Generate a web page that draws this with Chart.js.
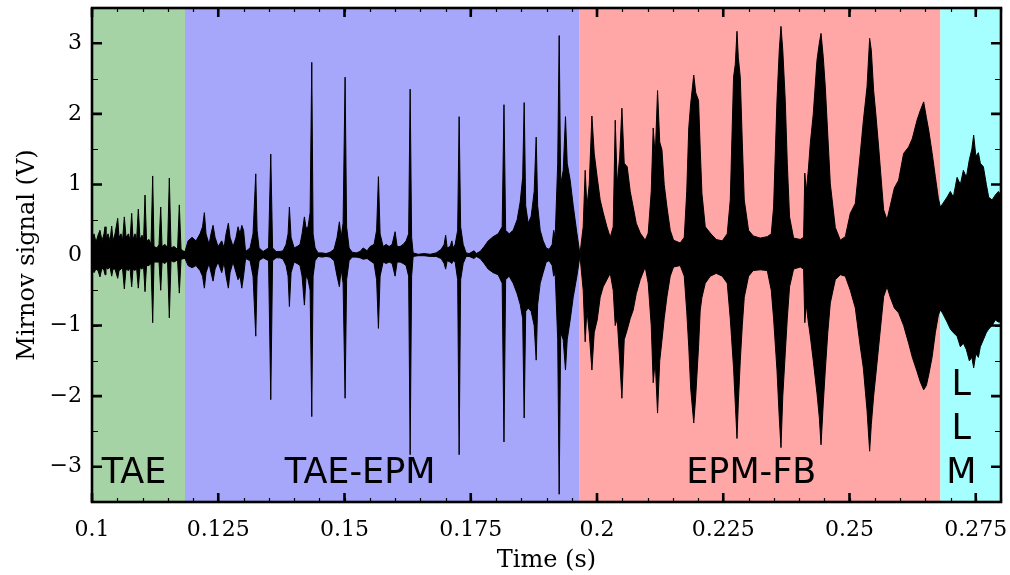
<!DOCTYPE html>
<html>
<head>
<meta charset="utf-8">
<title>Mirnov signal</title>
<script src="https://cdn.jsdelivr.net/npm/chart.js@4.4.0/dist/chart.umd.min.js"></script>
<style>
    html, body { margin: 0; padding: 0; background: #fff; }
    #wrap { width: 1010px; height: 575px; }
</style>
</head>
<body>
<div id="wrap"><canvas id="mirnovChart" width="1010" height="575"></canvas></div>
<script>
// Axis ticks
const xTicks = [0.1, 0.125, 0.15, 0.175, 0.2, 0.225, 0.25, 0.275];
const yTicks = [-3, -2, -1, 0, 1, 2, 3];

// Regimes: boundaries in time (s)
const regimeNames = ['TAE', 'TAE-EPM', 'EPM-FB', 'LLM'];
const regimeEdges = [0.1, 0.11842, 0.19657, 0.26799, 0.28];
const regimeColors = ['#a6d3a6', '#a6a6fa', '#ffa6a6', '#a6ffff'];

// Signal envelope (time in s, peaks in V)
const taeTime = [0.10000, 0.10040, 0.10079, 0.10119, 0.10158, 0.10198, 0.10238, 0.10258, 0.10277, 0.10317,
    0.10357, 0.10390, 0.10416, 0.10456, 0.10509, 0.10535, 0.10574, 0.10604, 0.10640, 0.10674,
    0.10723, 0.10753, 0.10786, 0.10812, 0.10852, 0.10882, 0.10917, 0.10951, 0.10991, 0.11020,
    0.11050, 0.11080, 0.11129, 0.11169, 0.11202, 0.11228, 0.11288, 0.11327, 0.11361, 0.11387,
    0.11446, 0.11496, 0.11531, 0.11565, 0.11624, 0.11694, 0.11729, 0.11763, 0.11823];
const taeTop = [0.15, 0.3, 0.18, 0.28, 0.35, 0.2, 0.3, 0.40, 0.22, 0.3,
    0.2, 0.41, 0.2, 0.3, 0.52, 0.25, 0.3, 0.2, 0.54, 0.25,
    0.3, 0.2, 0.59, 0.22, 0.3, 0.2, 0.65, 0.22, 0.28, 0.18,
    0.85, 0.2, 0.22, 0.15, 1.12, 0.12, 0.1, 0.15, 0.68, 0.12,
    0.15, 0.1, 1.09, 0.1, 0.12, 0.08, 0.71, 0.08, 0.05];
const taeBottom = [-0.15, -0.25, -0.2, -0.22, -0.31, -0.18, -0.22, -0.28, -0.18, -0.2,
    -0.17, -0.3, -0.2, -0.2, -0.33, -0.22, -0.2, -0.18, -0.48, -0.2,
    -0.22, -0.18, -0.45, -0.2, -0.22, -0.18, -0.47, -0.18, -0.2, -0.15,
    -0.52, -0.15, -0.15, -0.12, -0.96, -0.1, -0.1, -0.1, -0.50, -0.1,
    -0.12, -0.08, -0.89, -0.08, -0.1, -0.07, -0.54, -0.06, -0.05];

const taeEpmTime = [0.11842, 0.11902, 0.11981, 0.12060, 0.12139, 0.12189, 0.12225, 0.12258, 0.12318, 0.12357,
    0.12397, 0.12437, 0.12496, 0.12569, 0.12615, 0.12655, 0.12700, 0.12734, 0.12793, 0.12853,
    0.12892, 0.12932, 0.12966, 0.13001, 0.13041, 0.13130, 0.13189, 0.13243, 0.13269, 0.13308,
    0.13388, 0.13496, 0.13540, 0.13576, 0.13645, 0.13724, 0.13784, 0.13843, 0.13883, 0.13909,
    0.13942, 0.14002, 0.14061, 0.14120, 0.14160, 0.14206, 0.14239, 0.14279, 0.14319, 0.14352,
    0.14378, 0.14418, 0.14477, 0.14556, 0.14636, 0.14715, 0.14794, 0.14853, 0.14899, 0.14933,
    0.14972, 0.15012, 0.15042, 0.15091, 0.15151, 0.15230, 0.15309, 0.15369, 0.15448, 0.15507,
    0.15586, 0.15636, 0.15672, 0.15705, 0.15765, 0.15824, 0.15884, 0.15943, 0.16002, 0.16042,
    0.16101, 0.16161, 0.16220, 0.16270, 0.16300, 0.16329, 0.16359, 0.16458, 0.16577, 0.16696,
    0.16815, 0.16914, 0.16973, 0.17003, 0.17033, 0.17092, 0.17126, 0.17152, 0.17191, 0.17241,
    0.17270, 0.17300, 0.17350, 0.17409, 0.17468, 0.17567, 0.17607, 0.17686, 0.17766, 0.17845,
    0.17944, 0.18043, 0.18122, 0.18158, 0.18191, 0.18261, 0.18340, 0.18419, 0.18479, 0.18528,
    0.18558, 0.18588, 0.18637, 0.18697, 0.18756, 0.18796, 0.18825, 0.18875, 0.18934, 0.18994,
    0.19053, 0.19113, 0.19142, 0.19172, 0.19222, 0.19251, 0.19281, 0.19331, 0.19376, 0.19410,
    0.19469, 0.19529, 0.19602, 0.19657];
const taeEpmTop = [0.05, 0.2, 0.25, 0.2, 0.3, 0.4, 0.6, 0.3, 0.15, 0.3,
    0.42, 0.25, 0.12, 0.2, 0.1, 0.3, 0.45, 0.25, 0.12, 0.25,
    0.4, 0.3, 0.42, 0.35, 0.05, 0.1, 0.3, 1.15, 0.35, 0.1,
    0.05, 0.1, 1.43, 0.1, 0.05, 0.05, 0.06, 0.15, 0.3, 0.68,
    0.25, 0.1, 0.12, 0.15, 0.3, 0.54, 0.38, 0.4, 0.6, 2.73,
    0.3, 0.1, 0.03, 0.03, 0.02, 0.04, 0.08, 0.25, 0.47, 0.25,
    0.45, 2.52, 0.4, 0.1, 0.04, 0.03, 0.05, 0.1, 0.06, 0.12,
    0.15, 0.35, 1.11, 0.3, 0.12, 0.15, 0.12, 0.15, 0.33, 0.12,
    0.12, 0.15, 0.2, 0.3, 2.35, 0.25, 0.03, 0.01, 0.02, 0.01,
    0.03, 0.08, 0.15, 0.28, 0.1, 0.12, 0.2, 0.1, 0.15, 0.35,
    1.96, 0.4, 0.15, 0.03, 0.02, 0.06, 0.02, 0.05, 0.12, 0.2,
    0.26, 0.3, 0.4, 2.13, 0.35, 0.3, 0.35, 0.5, 0.75, 1.1,
    2.16, 0.7, 0.45, 0.55, 0.9, 1.67, 0.7, 0.35, 0.2, 0.1,
    0.08, 0.15, 0.35, 0.25, 1.3, 3.11, 1.0, 1.2, 1.96, 1.3,
    1.06, 0.7, 0.31, 0.04];
const taeEpmBottom = [-0.05, -0.15, -0.18, -0.15, -0.22, -0.3, -0.47, -0.25, -0.12, -0.25,
    -0.37, -0.2, -0.1, -0.25, -0.1, -0.3, -0.47, -0.25, -0.1, -0.25,
    -0.35, -0.3, -0.47, -0.3, -0.05, -0.08, -0.3, -1.15, -0.3, -0.08,
    -0.04, -0.08, -2.05, -0.08, -0.04, -0.04, -0.06, -0.15, -0.3, -0.73,
    -0.25, -0.1, -0.12, -0.15, -0.3, -0.71, -0.3, -0.35, -0.5, -2.29,
    -0.3, -0.08, -0.02, -0.03, -0.02, -0.03, -0.08, -0.3, -0.45, -0.2,
    -0.4, -2.03, -0.35, -0.08, -0.03, -0.03, -0.04, -0.06, -0.05, -0.08,
    -0.12, -0.35, -1.04, -0.3, -0.1, -0.12, -0.1, -0.12, -0.3, -0.1,
    -0.1, -0.12, -0.15, -0.3, -2.83, -0.3, -0.02, -0.01, -0.01, -0.02,
    -0.02, -0.05, -0.12, -0.2, -0.08, -0.1, -0.12, -0.08, -0.1, -0.35,
    -2.83, -0.35, -0.12, -0.02, -0.02, -0.05, -0.02, -0.05, -0.12, -0.2,
    -0.25, -0.28, -0.4, -2.65, -0.35, -0.3, -0.4, -0.55, -0.7, -0.9,
    -2.31, -0.8, -0.75, -0.8, -1.0, -1.49, -0.7, -0.4, -0.25, -0.1,
    -0.08, -0.15, -0.3, -0.25, -1.2, -3.39, -1.1, -1.2, -1.63, -1.2,
    -0.92, -0.6, -0.3, -0.04];

const epmFbTime = [0.19667, 0.19727, 0.19766, 0.19800, 0.19846, 0.19899, 0.19945, 0.20004, 0.20063, 0.20123,
    0.20196, 0.20262, 0.20321, 0.20361, 0.20400, 0.20450, 0.20493, 0.20539, 0.20598, 0.20658,
    0.20717, 0.20777, 0.20856, 0.20955, 0.21014, 0.21074, 0.21113, 0.21153, 0.21199, 0.21242,
    0.21286, 0.21331, 0.21385, 0.21450, 0.21516, 0.21648, 0.21728, 0.21777, 0.21817, 0.21856,
    0.21916, 0.21955, 0.22011, 0.22044, 0.22078, 0.22144, 0.22243, 0.22361, 0.22480, 0.22579,
    0.22639, 0.22704, 0.22738, 0.22772, 0.22798, 0.22837, 0.22877, 0.22916, 0.23001, 0.23094,
    0.23233, 0.23372, 0.23451, 0.23497, 0.23564, 0.23609, 0.23643, 0.23679, 0.23728, 0.23768,
    0.23813, 0.23893, 0.24025, 0.24091, 0.24115, 0.24144, 0.24184, 0.24224, 0.24283, 0.24356,
    0.24402, 0.24436, 0.24481, 0.24521, 0.24570, 0.24620, 0.24719, 0.24818, 0.24917, 0.25016,
    0.25115, 0.25214, 0.25274, 0.25347, 0.25399, 0.25432, 0.25478, 0.25521, 0.25577, 0.25676,
    0.25743, 0.25808, 0.25888, 0.25973, 0.26072, 0.26171, 0.26244, 0.26337, 0.26403, 0.26469,
    0.26522, 0.26568, 0.26635, 0.26700, 0.26760, 0.26799];
const epmFbTop = [0.04, 0.4, 1.2, 0.68, 1.0, 1.97, 1.44, 1.1, 0.78, 0.6,
    0.4, 0.25, 0.4, 1.91, 1.0, 1.4, 2.08, 1.3, 1.25, 0.9,
    0.68, 0.45, 0.31, 0.21, 0.31, 0.9, 1.8, 1.4, 2.33, 1.6,
    1.49, 1.0, 0.68, 0.35, 0.21, 0.17, 0.25, 0.9, 1.8, 2.15,
    2.55, 2.3, 2.19, 1.5, 0.87, 0.4, 0.31, 0.22, 0.2, 0.3,
    0.78, 2.52, 2.7, 3.17, 2.8, 2.52, 1.6, 0.78, 0.35, 0.27,
    0.24, 0.26, 0.3, 0.68, 2.19, 2.9, 3.24, 2.9, 2.19, 1.3,
    0.54, 0.24, 0.22, 0.25, 1.16, 0.9, 1.2, 1.58, 2.0, 2.76,
    3.0, 3.14, 2.8, 2.38, 1.7, 1.01, 0.39, 0.21, 0.26, 0.59,
    0.73, 1.44, 1.9, 2.38, 3.07, 2.9, 2.33, 2.0, 1.53, 0.64,
    0.5, 0.7, 0.95, 1.06, 1.44, 1.53, 1.65, 1.91, 2.05, 2.17,
    1.95, 1.77, 1.45, 1.11, 0.8, 0.68];
const epmFbBottom = [-0.04, -0.5, -1.23, -0.78, -1.1, -1.63, -1.1, -0.92, -0.6, -0.45,
    -0.35, -0.26, -0.5, -1.0, -0.9, -1.49, -2.03, -1.2, -1.06, -0.9,
    -0.78, -0.55, -0.35, -0.17, -0.4, -1.0, -1.81, -1.5, -2.24, -1.5,
    -1.21, -0.9, -0.59, -0.3, -0.17, -0.15, -0.3, -0.8, -1.3, -1.9,
    -2.38, -2.0, -1.3, -0.78, -0.6, -0.4, -0.3, -0.26, -0.3, -0.4,
    -0.9, -1.6, -2.1, -2.6, -2.1, -1.5, -1.0, -0.6, -0.3, -0.22,
    -0.21, -0.22, -0.5, -0.9, -1.63, -2.3, -2.73, -2.0, -1.39, -0.9,
    -0.45, -0.2, -0.17, -0.2, -0.96, -0.7, -0.95, -1.15, -1.5, -1.96,
    -2.3, -2.69, -2.1, -1.63, -1.1, -0.68, -0.35, -0.28, -0.3, -0.5,
    -0.75, -1.3, -1.6, -2.2, -2.78, -2.4, -2.0, -1.7, -1.3, -0.59,
    -0.45, -0.6, -0.75, -0.82, -1.0, -1.25, -1.45, -1.65, -1.8, -1.91,
    -1.85, -1.7, -1.45, -1.1, -0.85, -0.78];

const llmTime = [0.26839, 0.26932, 0.26997, 0.27056, 0.27130, 0.27195, 0.27255, 0.27314, 0.27373, 0.27423,
    0.27459, 0.27502, 0.27552, 0.27591, 0.27651, 0.27710, 0.27756, 0.27823, 0.27888, 0.27948, 0.28];
const llmTop = [0.72, 0.82, 0.9, 0.82, 1.1, 1.0, 1.2, 1.1, 1.35, 1.5,
    1.7, 1.4, 1.45, 1.3, 1.25, 1.0, 0.82, 0.78, 0.85, 0.9, 0.85];
const llmBottom = [-0.82, -0.95, -1.05, -1.1, -1.15, -1.3, -1.25, -1.34, -1.5, -1.45,
    -1.6, -1.4, -1.45, -1.3, -1.2, -1.1, -1.05, -1.0, -0.92, -0.95, -0.95];

document.addEventListener('DOMContentLoaded', () => {
    renderMirnovChart();
});

function toPoints(times, values) {
    return times.map((t, i) => ({ x: t, y: values[i] }));
}

// keep the plot box fixed: no extra room for edge labels
function fixScalePadding(scale) {
    scale.paddingLeft = 0;
    scale.paddingRight = 0;
    scale.paddingTop = 0;
    scale.paddingBottom = 0;
}

// shaded regimes behind the trace
const regimeShading = {
    id: 'regimeShading',
    beforeDatasetsDraw(chart) {
        const { ctx, chartArea, scales } = chart;
        ctx.save();
        for (let i = 0; i < regimeColors.length; i++) {
            const x0 = scales.x.getPixelForValue(regimeEdges[i]);
            const x1 = scales.x.getPixelForValue(regimeEdges[i + 1]);
            ctx.fillStyle = regimeColors[i];
            ctx.fillRect(x0, chartArea.top, x1 - x0, chartArea.bottom - chartArea.top);
        }
        ctx.restore();
    }
};

// frame, inward ticks, titles and regime labels
const frameAndLabels = {
    id: 'frameAndLabels',
    afterDatasetsDraw(chart) {
        const { ctx, chartArea: a, scales } = chart;
        const x = scales.x, y = scales.y;
        ctx.save();
        ctx.strokeStyle = '#000';
        ctx.lineCap = 'butt';

        // minor ticks
        ctx.lineWidth = 1.2;
        ctx.beginPath();
        for (let v = 0.1; v <= 0.2801; v += 0.005) {
            const px = Math.round(x.getPixelForValue(v)) + 0.5;
            ctx.moveTo(px, a.bottom); ctx.lineTo(px, a.bottom - 4);
            ctx.moveTo(px, a.top); ctx.lineTo(px, a.top + 4);
        }
        for (let v = -3.5; v <= 3.5; v += 0.5) {
            const py = Math.round(y.getPixelForValue(v)) + 0.5;
            ctx.moveTo(a.left, py); ctx.lineTo(a.left + 6, py);
            ctx.moveTo(a.right, py); ctx.lineTo(a.right - 6, py);
        }
        ctx.stroke();

        // major ticks
        ctx.lineWidth = 2.6;
        ctx.beginPath();
        xTicks.forEach(v => {
            const px = x.getPixelForValue(v);
            ctx.moveTo(px, a.bottom); ctx.lineTo(px, a.bottom - 9);
            ctx.moveTo(px, a.top); ctx.lineTo(px, a.top + 9);
        });
        yTicks.forEach(v => {
            const py = y.getPixelForValue(v);
            ctx.moveTo(a.left, py); ctx.lineTo(a.left + 10, py);
            ctx.moveTo(a.right, py); ctx.lineTo(a.right - 10, py);
        });
        ctx.stroke();

        // frame
        ctx.lineWidth = 2.6;
        ctx.strokeRect(a.left, a.top, a.right - a.left, a.bottom - a.top);

        // regime labels
        ctx.fillStyle = '#000';
        ctx.font = '35px "DejaVu Sans"';
        ctx.textBaseline = 'alphabetic';
        ctx.textAlign = 'left';
        ctx.fillText(regimeNames[0], x.getPixelForValue(0.10192), 483);
        ctx.textAlign = 'center';
        ctx.fillText(regimeNames[1], x.getPixelForValue(0.15309), 483);
        ctx.fillText(regimeNames[2], x.getPixelForValue(0.23055), 483);
        const llmX = x.getPixelForValue(0.27215);
        regimeNames[3].split('').forEach((ch, i) => {
            ctx.fillText(ch, llmX, 395 + i * 44);
        });

        // axis titles
        ctx.font = '24px "DejaVu Serif"';
        ctx.textAlign = 'center';
        ctx.fillText('Time (s)', (a.left + a.right) / 2, 567);
        ctx.translate(34, (a.top + a.bottom) / 2);
        ctx.rotate(-Math.PI / 2);
        ctx.fillText('Mirnov signal (V)', 0, 0);
        ctx.restore();
    }
};

function renderMirnovChart() {
    const ctx = document.getElementById('mirnovChart').getContext('2d');
    const tickFont = { family: 'DejaVu Serif', size: 22 };

    const allTime = [...taeTime, ...taeEpmTime, ...epmFbTime, ...llmTime];
    const allTop = [...taeTop, ...taeEpmTop, ...epmFbTop, ...llmTop];
    const allBottom = [...taeBottom, ...taeEpmBottom, ...epmFbBottom, ...llmBottom];

    new Chart(ctx, {
        type: 'line',
        data: {
            datasets: [
                {
                    label: 'upper',
                    data: toPoints(allTime, allTop),
                    borderColor: '#000',
                    backgroundColor: '#000',
                    borderWidth: 1,
                    pointRadius: 0,
                    tension: 0,
                    fill: 'origin'
                },
                {
                    label: 'lower',
                    data: toPoints(allTime, allBottom),
                    borderColor: '#000',
                    backgroundColor: '#000',
                    borderWidth: 1,
                    pointRadius: 0,
                    tension: 0,
                    fill: 'origin'
                }
            ]
        },
        options: {
            responsive: false,
            animation: false,
            events: [],
            layout: { padding: { top: 8, right: 9, left: 0, bottom: 0 } },
            plugins: {
                legend: { display: false },
                tooltip: { enabled: false }
            },
            scales: {
                x: {
                    type: 'linear',
                    min: 0.1,
                    max: 0.28,
                    grid: { display: false, drawTicks: false },
                    border: { display: false },
                    afterFit: (scale) => { scale.height = 73; fixScalePadding(scale); },
                    afterBuildTicks: (scale) => { scale.ticks = xTicks.map(v => ({ value: v })); },
                    ticks: {
                        font: tickFont,
                        color: '#000',
                        padding: 15,
                        maxRotation: 0,
                        autoSkip: false,
                        callback: (v) => String(v)
                    }
                },
                y: {
                    min: -3.5,
                    max: 3.5,
                    grid: { display: false, drawTicks: false },
                    border: { display: false },
                    afterFit: (scale) => { scale.width = 92; fixScalePadding(scale); },
                    afterBuildTicks: (scale) => { scale.ticks = yTicks.map(v => ({ value: v })); },
                    ticks: {
                        font: tickFont,
                        color: '#000',
                        padding: 10,
                        callback: (v) => v < 0 ? '\u2212' + Math.abs(v) : String(v)
                    }
                }
            }
        },
        plugins: [regimeShading, frameAndLabels]
    });
}
</script>
</body>
</html>
